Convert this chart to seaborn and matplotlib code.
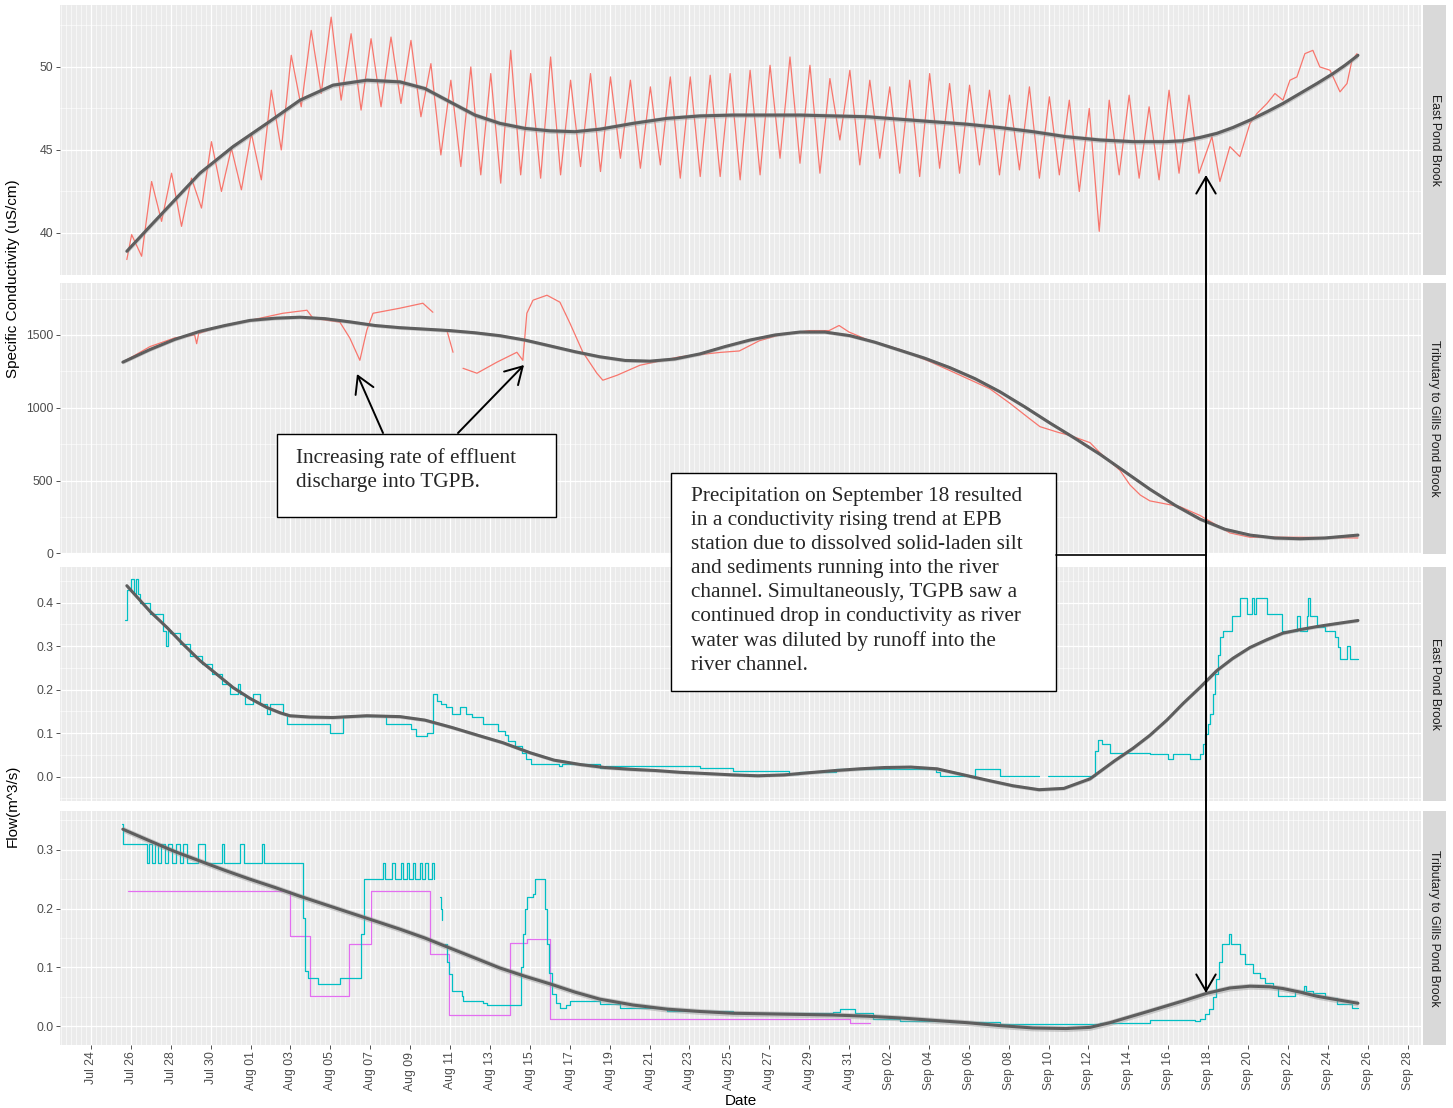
import numpy as np
import pandas as pd
import matplotlib
matplotlib.use("Agg")
import matplotlib.pyplot as plt
import matplotlib.dates as mdates
from matplotlib.ticker import FixedLocator, AutoMinorLocator
from matplotlib.patches import Rectangle, FancyArrowPatch
from matplotlib.lines import Line2D
import seaborn as sns

# ---------------------------------------------------------------------------
# Time is given in days since Jul 24, 00:00
# ---------------------------------------------------------------------------

# East Pond Brook specific conductivity (uS/cm)
# daily maximum (~01:00) and minimum (~13:00), Jul 26 .. Sep 17
epb_cond_start = (1.80, 38.4)
epb_cond_peaks = [39.9, 43.1, 43.6, 43.3, 45.5, 45.1, 46.0, 48.6, 50.7, 52.2,
                  53.0, 52.0, 51.7, 51.8, 51.6, 50.2, 49.2, 50.0, 49.6, 51.0,
                  49.6, 50.6, 49.2, 49.6, 49.4, 49.2, 48.8, 49.4, 49.4, 49.5,
                  49.6, 49.8, 50.1, 50.6, 50.1, 49.3, 49.8, 49.2, 48.8, 49.2,
                  49.6, 49.0, 48.9, 48.6, 48.3, 48.8, 48.2, 48.0, 47.5, 48.0,
                  48.3, 47.6, 48.6, 48.3]
epb_cond_troughs = [38.6, 40.7, 40.4, 41.5, 42.5, 42.6, 43.2, 45.0, 47.6, 48.4,
                    48.0, 47.4, 47.6, 47.8, 47.0, 44.7, 44.0, 43.5, 43.0, 43.5,
                    43.3, 43.5, 44.0, 43.7, 44.5, 43.9, 44.1, 43.3, 43.4, 43.4,
                    43.2, 43.5, 44.5, 44.2, 43.6, 45.6, 44.1, 44.5, 43.6, 43.4,
                    43.9, 43.6, 44.1, 43.5, 43.8, 43.3, 43.5, 42.5, 40.1, 43.5,
                    43.3, 43.2, 43.6, 43.6]
# after the Sep 18 rain the daily cycle disappears
epb_cond_tail_days = [56.19, 56.59, 57.09, 57.59, 58.10, 58.45, 58.95, 59.35, 59.75, 60.10,
                      60.45, 60.85, 61.25, 61.60, 62.11, 62.61, 62.96, 63.21, 63.46]
epb_cond_tail_vals = [45.8, 43.1, 45.2, 44.6, 46.6, 47.2, 47.8, 48.4, 48.0, 49.2,
                      49.4, 50.8, 51.0, 50.0, 49.8, 48.5, 49.0, 50.4, 50.8]
epb_cond_fit_days = [1.80, 2.96, 4.21, 5.46, 7.12, 8.82, 10.48, 12.13, 13.83, 15.49,
                     16.74, 17.99, 19.25, 20.50, 21.75, 23.01, 24.26, 25.51, 27.17, 28.87,
                     30.53, 32.18, 33.88, 35.54, 37.19, 38.90, 40.55, 42.21, 43.91, 45.56,
                     47.22, 48.87, 50.58, 52.23, 53.88, 54.74, 55.59, 56.44, 57.24, 58.10,
                     58.95, 59.75, 60.60, 61.45, 62.26, 62.86, 63.51]
epb_cond_fit_vals = [38.9, 40.4, 42.0, 43.6, 45.2, 46.6, 48.0, 48.9, 49.2, 49.1,
                     48.7, 47.9, 47.1, 46.6, 46.3, 46.15, 46.1, 46.25, 46.6, 46.9,
                     47.05, 47.1, 47.1, 47.1, 47.05, 47.0, 46.85, 46.7, 46.55, 46.35,
                     46.1, 45.8, 45.6, 45.5, 45.5, 45.55, 45.75, 46.0, 46.35, 46.8,
                     47.3, 47.8, 48.4, 49.0, 49.6, 50.1, 50.7]
epb_cond_fit_se = 0.15

# Tributary to Gills Pond Brook specific conductivity (uS/cm)
tgpb_cond_days = [1.60, 2.96, 4.21, 5.20, 5.30, 5.40, 6.50, 7.97, 9.62, 10.83,
                  11.13, 12.48, 12.98, 13.48, 13.83, 14.14, 15.49, 16.64, 17.14, 17.50,
                  17.84, 18.15, 18.40, 18.65, 19.35, 20.35, 21.35, 21.65, 21.85, 22.16,
                  22.86, 23.51, 24.01, 24.66, 25.36, 25.66, 26.37, 27.52, 29.52, 31.53,
                  32.50, 33.50, 34.50, 36.00, 37.00, 37.50, 38.00, 39.05, 40.55, 42.00,
                  43.06, 45.06, 46.07, 47.00, 47.57, 48.50, 49.07, 50.08, 50.58, 51.00,
                  51.58, 52.08, 52.60, 53.08, 54.59, 55.59, 57.09, 58.10, 60.60, 63.51]
tgpb_cond_vals = [1313, 1420, 1480, 1500, 1440, 1510, 1560, 1600, 1649, 1670,
                  1615, 1588, 1478, 1326, 1533, 1649, 1684, 1718, 1656, np.nan,
                  1533, 1381, np.nan, 1271, 1237, 1313, 1381, 1326, 1649, 1739,
                  1773, 1725, 1581, 1381, 1237, 1189, 1223, 1292, 1350, 1380,
                  1390, 1460, 1500, 1530, 1530, 1565, 1520, 1460, 1400, 1320,
                  1255, 1130, 1030, 930, 870, 830, 810, 760, 690, 640,
                  570, 470, 400, 360, 320, 260, 140, 110, 110, 105]
tgpb_cond_fit_days = [1.60, 2.96, 4.21, 5.46, 6.72, 7.97, 9.22, 10.48, 11.73, 12.98,
                      14.24, 15.49, 16.74, 17.99, 19.25, 20.50, 21.75, 23.01, 24.26, 25.51,
                      26.77, 28.02, 29.27, 30.53, 31.78, 33.03, 34.29, 35.54, 36.79, 38.05,
                      39.30, 40.55, 41.80, 43.06, 44.31, 45.56, 46.82, 48.07, 49.32, 50.58,
                      51.83, 53.08, 54.34, 55.59, 56.84, 58.10, 59.35, 60.60, 61.85, 63.51]
tgpb_cond_fit_vals = [1313, 1400, 1470, 1525, 1565, 1600, 1615, 1622, 1612, 1590,
                      1565, 1550, 1540, 1530, 1515, 1495, 1465, 1425, 1385, 1350,
                      1325, 1320, 1335, 1370, 1420, 1465, 1500, 1520, 1520, 1495,
                      1450, 1395, 1340, 1275, 1200, 1110, 1005, 895, 790, 680,
                      560, 440, 330, 235, 165, 125, 105, 100, 105, 125]
tgpb_cond_fit_se = 12

# East Pond Brook flow (m^3/s)
epb_flow_days = [1.70, 1.80, 2.01, 2.16, 2.26, 2.36, 2.46, 2.96, 3.61, 3.76,
                 3.86, 3.96, 4.46, 4.96, 5.56, 6.07, 6.57, 6.97, 7.37, 7.47,
                 7.72, 8.12, 8.47, 8.82, 8.97, 9.62, 9.82, 11.98, 12.63, 14.79,
                 16.04, 16.29, 16.84, 17.14, 17.34, 17.54, 17.79, 18.10, 18.50, 18.80,
                 19.10, 19.65, 20.40, 20.75, 20.90, 21.25, 21.60, 21.80, 22.06, 23.46,
                 23.61, 25.26, 25.51, 25.76, 30.53, 32.18, 34.99, 35.49, 37.34, 42.36,
                 42.56, 44.31, 45.56, 47.50, 47.57, 47.97, 50.33, 50.48, 50.68, 51.08,
                 53.08, 53.98, 54.24, 55.09, 55.59, 55.74, 55.84, 55.99, 56.09, 56.24,
                 56.34, 56.49, 56.59, 56.74, 57.19, 57.59, 57.94, 58.20, 58.30, 58.40,
                 58.95, 59.70, 60.45, 60.60, 60.95, 61.00, 61.10, 61.45, 61.85, 62.36,
                 62.51, 62.61, 62.96, 63.11, 63.51]
epb_flow_vals = [0.36, 0.43, 0.455, 0.42, 0.455, 0.42, 0.40, 0.375, 0.335, 0.30,
                 0.335, 0.33, 0.305, 0.278, 0.26, 0.237, 0.214, 0.19, 0.214, 0.19,
                 0.168, 0.19, 0.168, 0.145, 0.168, 0.145, 0.122, 0.101, 0.14, 0.122,
                 0.11, 0.094, 0.10, 0.19, 0.175, 0.168, 0.16, 0.145, 0.16, 0.145,
                 0.136, 0.122, 0.105, 0.095, 0.083, 0.07, 0.055, 0.04, 0.03, 0.025,
                 0.03, 0.03, 0.021, 0.025, 0.021, 0.014, 0.005, 0.01, 0.018, 0.01,
                 0.002, 0.018, 0.002, 0.002, np.nan, 0.002, 0.06, 0.085, 0.075, 0.055,
                 0.053, 0.041, 0.053, 0.041, 0.053, 0.075, 0.099, 0.12, 0.145, 0.19,
                 0.237, 0.28, 0.32, 0.336, 0.37, 0.41, 0.375, 0.41, 0.375, 0.41,
                 0.375, 0.336, 0.37, 0.336, 0.37, 0.41, 0.37, 0.343, 0.336, 0.32,
                 0.297, 0.271, 0.30, 0.271, 0.271]
epb_flow_fit_days = [1.80, 2.96, 3.81, 4.61, 5.46, 6.32, 7.12, 7.97, 8.82, 9.47,
                     9.97, 10.98, 12.13, 13.83, 15.49, 16.74, 18.10, 19.40, 20.65, 22.01,
                     23.21, 24.51, 25.76, 27.02, 28.32, 29.52, 30.88, 32.18, 33.43, 34.74,
                     35.99, 37.29, 38.55, 39.80, 41.10, 42.41, 43.66, 44.91, 46.22, 47.52,
                     48.77, 50.08, 51.33, 52.23, 53.08, 53.93, 54.74, 55.59, 56.44, 57.24,
                     58.10, 58.95, 59.75, 60.60, 61.45, 62.46, 63.51]
epb_flow_fit_vals = [0.439, 0.38, 0.343, 0.305, 0.267, 0.235, 0.205, 0.18, 0.159, 0.147,
                     0.14, 0.137, 0.136, 0.14, 0.138, 0.13, 0.113, 0.095, 0.078, 0.055,
                     0.038, 0.028, 0.021, 0.017, 0.014, 0.01, 0.007, 0.004, 0.002, 0.004,
                     0.009, 0.014, 0.018, 0.021, 0.022, 0.018, 0.005, -0.008, -0.021, -0.03,
                     -0.027, -0.005, 0.037, 0.065, 0.095, 0.13, 0.168, 0.205, 0.244, 0.272,
                     0.297, 0.315, 0.33, 0.338, 0.345, 0.352, 0.359]
epb_flow_fit_se = 0.004

# Tributary to Gills Pond Brook flow (m^3/s): gauged and second record
tgpb_flow_days = [1.55, 1.60, 2.81, 2.91, 3.06, 3.21, 3.36, 3.51, 3.71, 3.86,
                  4.06, 4.26, 4.46, 4.61, 4.81, 5.36, 5.71, 6.57, 6.67, 7.47,
                  7.67, 8.57, 8.67, 10.63, 10.73, 10.88, 11.38, 12.48, 13.53, 13.68,
                  14.64, 14.74, 15.09, 15.24, 15.54, 15.64, 15.84, 15.94, 16.14, 16.24,
                  16.49, 16.59, 16.74, 16.89, 17.09, 17.19, 17.29, 17.49, 17.54, 17.59,
                  17.64, 17.74, 17.84, 17.94, 18.10, 18.60, 18.65, 19.65, 19.85, 21.55,
                  21.65, 21.75, 21.85, 22.16, 22.26, 22.76, 22.86, 22.96, 23.11, 23.31,
                  23.51, 23.81, 24.01, 25.51, 26.52, 28.87, 32.18, 37.19, 37.54, 38.30,
                  39.20, 40.55, 43.06, 45.56, 50.58, 53.08, 55.34, 55.59, 55.84, 56.04,
                  56.24, 56.39, 56.54, 56.69, 57.04, 57.14, 57.59, 57.84, 58.25, 58.60,
                  58.85, 59.25, 59.50, 60.35, 60.80, 60.90, 61.25, 61.85, 62.46, 63.21,
                  63.51]
tgpb_flow_vals = [0.344, 0.31, 0.278, 0.31, 0.278, 0.31, 0.278, 0.31, 0.278, 0.31,
                  0.278, 0.31, 0.278, 0.31, 0.278, 0.31, 0.278, 0.31, 0.278, 0.31,
                  0.278, 0.31, 0.278, 0.184, 0.094, 0.082, 0.072, 0.082, 0.157, 0.25,
                  0.278, 0.25, 0.278, 0.25, 0.278, 0.25, 0.278, 0.25, 0.278, 0.25,
                  0.278, 0.25, 0.278, 0.25, 0.278, 0.25, np.nan, 0.22, 0.2, 0.18,
                  np.nan, 0.14, 0.11, 0.089, 0.06, 0.051, 0.043, 0.04, 0.036, 0.1,
                  0.157, 0.2, 0.22, 0.225, 0.25, 0.2, 0.14, 0.09, 0.054, 0.04,
                  0.031, 0.036, 0.043, 0.037, 0.031, 0.026, 0.022, 0.024, 0.029, 0.022,
                  0.012, 0.009, 0.007, 0.003, 0.006, 0.01, 0.009, 0.012, 0.02, 0.03,
                  0.05, 0.08, 0.11, 0.14, 0.157, 0.14, 0.123, 0.106, 0.09, 0.082,
                  0.073, 0.065, 0.051, 0.06, 0.068, 0.06, 0.056, 0.048, 0.037, 0.031,
                  0.031]
tgpb_flow2_days = [1.85, 9.97, 10.98, 12.93, 14.04, 16.99, 17.94, 21.00, 21.85, 23.01, 38.05, 39.05]
tgpb_flow2_vals = [0.23, 0.153, 0.051, 0.14, 0.23, 0.123, 0.019, 0.141, 0.148, 0.012, 0.005, 0.005]
tgpb_flow_fit_days = [1.60, 2.96, 4.21, 5.46, 6.72, 7.97, 9.22, 10.48, 11.73, 12.98,
                      14.24, 15.49, 16.74, 17.99, 19.25, 20.50, 21.75, 23.01, 24.26, 25.51,
                      27.17, 28.87, 30.53, 32.18, 33.88, 35.54, 37.19, 38.90, 40.55, 42.21,
                      43.91, 45.56, 47.22, 48.87, 50.08, 51.08, 52.08, 53.08, 54.74, 55.94,
                      57.09, 58.10, 59.10, 59.75, 60.60, 61.45, 62.46, 63.51]
tgpb_flow_fit_vals = [0.335, 0.315, 0.297, 0.281, 0.265, 0.25, 0.236, 0.221, 0.207, 0.193,
                      0.179, 0.165, 0.15, 0.133, 0.116, 0.099, 0.085, 0.072, 0.058, 0.046,
                      0.036, 0.029, 0.025, 0.022, 0.021, 0.02, 0.019, 0.017, 0.014, 0.01,
                      0.006, 0.001, -0.003, -0.004, -0.002, 0.006, 0.016, 0.026, 0.043, 0.056,
                      0.065, 0.068, 0.067, 0.064, 0.058, 0.051, 0.045, 0.039]
tgpb_flow_fit_se = 0.005

site_names = ["East Pond Brook", "Tributary to Gills Pond Brook"]
note_effluent = "Increasing rate of effluent\ndischarge into TGPB."
note_rain = ("Precipitation on September 18 resulted\n"
             "in a conductivity rising trend at EPB\n"
             "station due to dissolved solid-laden silt\n"
             "and sediments running into the river\n"
             "channel. Simultaneously, TGPB saw a\n"
             "continued drop in conductivity as river\n"
             "water was diluted by runoff into the\n"
             "river channel.")

# ---------------------------------------------------------------------------
START = pd.Timestamp("2017-07-24")


def when(days):
    return START + pd.to_timedelta(np.asarray(days, dtype=float), unit="D")


# assemble the EPB conductivity record from its daily extremes
cond_days = [epb_cond_start[0]]
cond_vals = [epb_cond_start[1]]
for k, (hi, lo) in enumerate(zip(epb_cond_peaks, epb_cond_troughs)):
    cond_days += [2 + k + 1 / 24, 2 + k + 13 / 24]
    cond_vals += [hi, lo]
cond_days += epb_cond_tail_days
cond_vals += epb_cond_tail_vals

sns.set_theme(style="darkgrid")
plt.rcParams["font.family"] = ["Liberation Sans", "DejaVu Sans"]

W, H = 1453, 1108
fig = plt.figure(figsize=(W / 100, H / 100), dpi=100)
fig.patch.set_facecolor("white")


def fx(x):
    return x / W


def fy(y):
    return 1 - y / H


def frame(left, top, right, bottom):
    return [fx(left), fy(bottom), (right - left) / W, (bottom - top) / H]


RED, CYAN, MAGENTA, SMOOTH = "#F8766D", "#00BFC4", "#E36EF0", "#5E5E5E"
XMIN, XMAX = when([-1.55])[0], when([66.67])[0]
major_dates = pd.date_range("2017-07-24", "2017-09-28", freq="2D")


def draw_series(ax, days, vals, color, steps=False):
    v = np.asarray(vals, dtype=float)
    df = pd.DataFrame({"time": when(days), "value": v, "seg": np.cumsum(np.isnan(v))}).dropna()
    kw = {"drawstyle": "steps-post"} if steps else {}
    sns.lineplot(data=df, x="time", y="value", units="seg", estimator=None,
                 color=color, lw=0.9, ax=ax, legend=False, zorder=2, **kw)


def draw_smooth(ax, days, vals, se):
    t = when(days)
    v = np.asarray(vals, dtype=float)
    ax.fill_between(t, v - se, v + se, color="#9A9A9A", alpha=0.45, lw=0, zorder=3)
    sns.lineplot(x=t, y=v, color=SMOOTH, lw=2.2, ax=ax, estimator=None, zorder=4)


def style(ax, ylim, yticks, ylabels, show_x=False):
    ax.set_facecolor("#EBEBEB")
    for s in ax.spines.values():
        s.set_visible(False)
    ax.set_xlim(XMIN, XMAX)
    ax.set_ylim(*ylim)
    ax.set_yticks(yticks)
    ax.set_yticklabels(ylabels)
    ax.yaxis.set_minor_locator(AutoMinorLocator(2))
    ax.xaxis.set_major_locator(FixedLocator(mdates.date2num(major_dates)))
    ax.xaxis.set_minor_locator(mdates.HourLocator(byhour=[0, 6, 12, 18]))
    ax.grid(which="major", color="white", lw=0.9)
    ax.grid(which="minor", color="white", lw=0.4)
    ax.set_axisbelow(True)
    ax.tick_params(axis="y", which="major", length=2.75, width=0.6, color="#333333",
                   labelcolor="#4D4D4D", labelsize=8.8, pad=2, left=True)
    ax.tick_params(which="minor", length=0)
    ax.set_xlabel("")
    ax.set_ylabel("")
    if show_x:
        ax.set_xticklabels([d.strftime("%b %d") for d in major_dates], rotation=90,
                           ha="center", va="top")
        ax.tick_params(axis="x", which="major", length=2.75, width=0.6, color="#333333",
                       labelcolor="#4D4D4D", labelsize=8.8, pad=2, bottom=True)
    else:
        ax.tick_params(axis="x", which="major", length=0, labelbottom=False)


def strip(top, bottom, text):
    s = fig.add_axes(frame(1423, top, 1446, bottom))
    s.set_facecolor("#D9D9D9")
    for sp in s.spines.values():
        sp.set_visible(False)
    s.set_xticks([])
    s.set_yticks([])
    s.grid(False)
    s.text(0.5, 0.5, text, rotation=-90, ha="center", va="center",
           fontsize=8.8, color="#1A1A1A", transform=s.transAxes)


# panel 1: EPB conductivity
ax1 = fig.add_axes(frame(60, 5, 1421, 275))
draw_series(ax1, cond_days, cond_vals, RED)
draw_smooth(ax1, epb_cond_fit_days, epb_cond_fit_vals, epb_cond_fit_se)
style(ax1, (37.47, 53.73), [40, 45, 50], ["40", "45", "50"])
strip(5, 275, site_names[0])

# panel 2: TGPB conductivity
ax2 = fig.add_axes(frame(60, 283, 1421, 554))
draw_series(ax2, tgpb_cond_days, tgpb_cond_vals, RED)
draw_smooth(ax2, tgpb_cond_fit_days, tgpb_cond_fit_vals, tgpb_cond_fit_se)
style(ax2, (-5, 1857), [0, 500, 1000, 1500], ["0", "500", "1000", "1500"])
strip(283, 554, site_names[1])

# panel 3: EPB flow
ax3 = fig.add_axes(frame(60, 567, 1421, 801))
draw_series(ax3, epb_flow_days, epb_flow_vals, CYAN, steps=True)
draw_smooth(ax3, epb_flow_fit_days, epb_flow_fit_vals, epb_flow_fit_se)
style(ax3, (-0.056, 0.482), [0, 0.1, 0.2, 0.3, 0.4], ["0.0", "0.1", "0.2", "0.3", "0.4"])
strip(567, 801, site_names[0])

# panel 4: TGPB flow
ax4 = fig.add_axes(frame(60, 811, 1421, 1045))
draw_series(ax4, tgpb_flow2_days, tgpb_flow2_vals, MAGENTA, steps=True)
draw_series(ax4, tgpb_flow_days, tgpb_flow_vals, CYAN, steps=True)
draw_smooth(ax4, tgpb_flow_fit_days, tgpb_flow_fit_vals, tgpb_flow_fit_se)
style(ax4, (-0.032, 0.366), [0, 0.1, 0.2, 0.3], ["0.0", "0.1", "0.2", "0.3"], show_x=True)
strip(811, 1045, site_names[1])

# axis titles
fig.text(fx(13), fy(279), "Specific Conductivity (uS/cm)", rotation=90,
         ha="center", va="center", fontsize=11, color="black")
fig.text(fx(13), fy(806), "Flow(m^3/s)", rotation=90,
         ha="center", va="center", fontsize=11, color="black")
fig.text(fx(741), fy(1101), "Date", ha="center", va="center", fontsize=11, color="black")

# call-out boxes
serif = ["Liberation Serif", "DejaVu Serif"]


def callout(left, top, right, bottom, text_left, text_mid, text):
    fig.add_artist(Rectangle((fx(left), fy(bottom)), (right - left) / W, (bottom - top) / H,
                             transform=fig.transFigure, facecolor="white",
                             edgecolor="black", lw=1.0, zorder=5))
    fig.text(fx(text_left), fy(text_mid), text, ha="left", va="center",
             fontsize=15.3, family=serif, linespacing=1.36, zorder=6)


def arrow(x0, y0, x1, y1, style="->"):
    fig.add_artist(FancyArrowPatch((fx(x0), fy(y0)), (fx(x1), fy(y1)),
                                   transform=fig.transFigure,
                                   arrowstyle=f"{style},head_length=0.6,head_width=0.35",
                                   mutation_scale=20, lw=1.4, color="black",
                                   shrinkA=0, shrinkB=0, zorder=7))


callout(277, 434, 556, 517, 296, 470, note_effluent)
arrow(383, 433, 357, 374)
arrow(458, 433, 524, 365)

callout(671, 473, 1056, 691, 691, 581, note_rain)
fig.add_artist(Line2D([fx(1056), fx(1206)], [fy(555), fy(555)], transform=fig.transFigure,
                      color="black", lw=1.2, zorder=7))
arrow(1206, 555, 1206, 175)
arrow(1206, 555, 1206, 993)

fig.savefig("out.png", dpi=100)
